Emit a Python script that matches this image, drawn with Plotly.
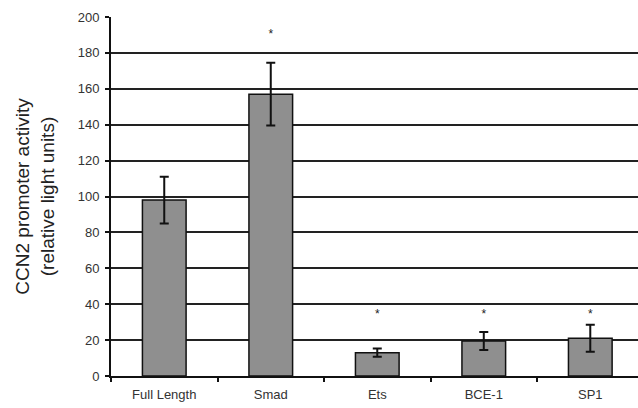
import plotly.graph_objects as go

categories = ["Full Length", "Smad", "Ets", "BCE-1", "SP1"]
values = [98, 157, 13, 19.5, 21]
errors = [13, 17.5, 2.3, 5, 7.5]
star_y = [None, 190, 34, 34, 34]
star_text = ["", "*", "*", "*", "*"]
y_ticks = [0, 20, 40, 60, 80, 100, 120, 140, 160, 180, 200]

fig = go.Figure()
fig.add_trace(go.Bar(
    x=categories, y=values, width=0.41,
    marker=dict(color="#8f8f8f", line=dict(color="#111111", width=1.5)),
    error_y=dict(type="data", array=errors, color="#111111", thickness=2, width=4.5),
    showlegend=False,
))
fig.add_trace(go.Scatter(
    x=categories, y=star_y, mode="text", text=star_text,
    textfont=dict(family="Liberation Sans, Arial", size=12, color="#222222"),
    textposition="middle center", showlegend=False, cliponaxis=False,
))

fig.update_layout(
    width=638, height=408,
    margin=dict(l=111, r=0, t=17, b=32),
    paper_bgcolor="white", plot_bgcolor="white",
    font=dict(family="Liberation Sans, Arial", color="#222222"),
    bargap=0.5,
)
fig.update_xaxes(
    type="category", range=[-0.5, 4.448],
    showline=True, linecolor="#111111", linewidth=2,
    ticks="outside", tickson="boundaries", ticklen=4, tickwidth=1.5, tickcolor="#111111",
    showgrid=False, tickfont=dict(size=13, color="#333333"),
    ticklabelstandoff=5,
)
fig.update_yaxes(
    range=[0, 200], tickvals=y_ticks,
    showline=True, linecolor="#111111", linewidth=2,
    ticks="outside", ticklen=4, tickwidth=1.5, tickcolor="#111111",
    showgrid=True, gridcolor="#222222", gridwidth=2,
    zeroline=False, tickfont=dict(size=13, color="#333333"),
    ticklabelstandoff=3,
    title=dict(text="CCN2 promoter activity<br>(relative light units)",
               font=dict(size=19, color="#222222"), standoff=18),
)

fig.write_html("out.html")
